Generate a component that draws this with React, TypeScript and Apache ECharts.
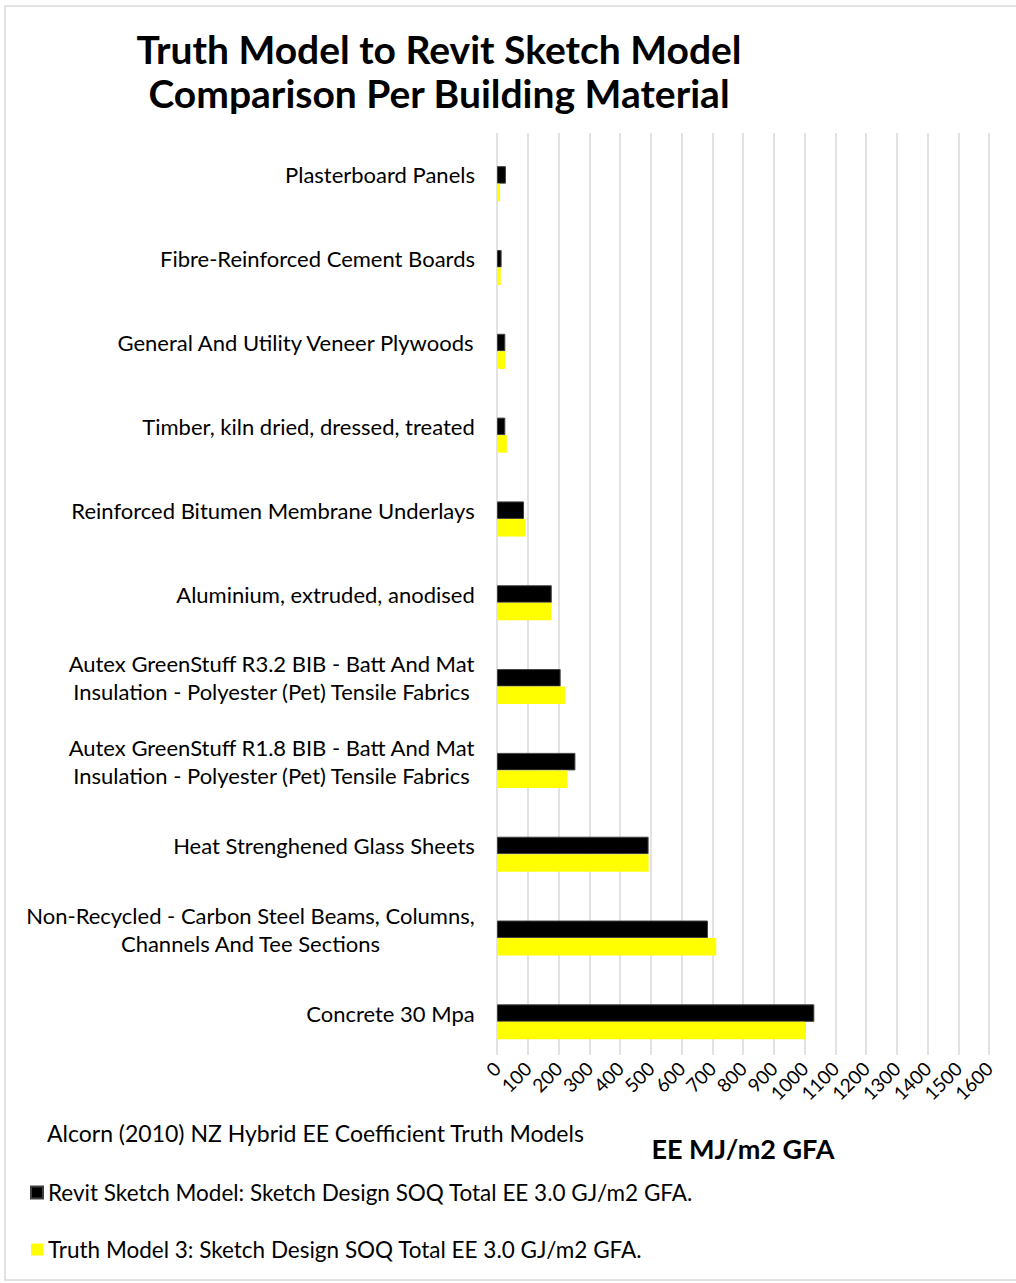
import React, { useEffect, useRef } from "react";
import * as echarts from "echarts";

const categories = [
  "Plasterboard Panels",
  "Fibre-Reinforced Cement Boards",
  "General And Utility Veneer Plywoods",
  "Timber, kiln dried, dressed, treated",
  "Reinforced Bitumen Membrane Underlays",
  "Aluminium, extruded, anodised",
  "Autex GreenStuff R3.2 BIB - Batt And Mat\nInsulation - Polyester (Pet) Tensile Fabrics",
  "Autex GreenStuff R1.8 BIB - Batt And Mat\nInsulation - Polyester (Pet) Tensile Fabrics",
  "Heat Strenghened Glass Sheets",
  "Non-Recycled - Carbon Steel Beams, Columns,\nChannels And Tee Sections",
  "Concrete 30 Mpa",
];

const revitValues = [29, 15, 27, 27, 88, 178, 207, 255, 493, 686, 1032];
const truthValues = [10, 12, 26, 32, 92, 177, 221, 228, 493, 713, 1002];

const revitName = "Revit Sketch Model: Sketch Design SOQ Total EE 3.0 GJ/m2 GFA.";
const truthName = "Truth Model 3: Sketch Design SOQ Total EE 3.0 GJ/m2 GFA.";
const titleText = "Truth Model to Revit Sketch Model\nComparison Per Building Material";
const axisName = "EE MJ/m2 GFA";
const noteText = "Alcorn (2010) NZ Hybrid EE Coefficient Truth Models";

const FONT = "Lato, 'Open Sans', sans-serif";
const LABEL_SIZE = 22;

export default function App() {
  const ref = useRef<HTMLDivElement>(null);
  useEffect(() => {
    if (!ref.current) return;
    const chart = echarts.init(ref.current, undefined, { renderer: "svg" });

    const ctx = document.createElement("canvas").getContext("2d")!;
    ctx.font = `${LABEL_SIZE}px Lato`;
    const rich: Record<string, any> = {};
    const labelMap: Record<string, string> = {};
    categories.forEach((c, i) => {
      const lines = c.split("\n");
      const w = Math.max(...lines.map((l) => ctx.measureText(l).width));
      const key = "l" + i;
      rich[key] = {
        width: Math.ceil(w),
        align: "center",
        fontSize: LABEL_SIZE,
        fontFamily: FONT,
        color: "#000",
        lineHeight: 28,
      };
      labelMap[c] = lines.map((l) => `{${key}|${l}}`).join("\n");
    });

    chart.setOption({
      animation: false,
      backgroundColor: "#fff",
      title: {
        text: titleText,
        left: 434,
        top: 22,
        textAlign: "center",
        textStyle: {
          fontSize: 39,
          fontWeight: "bold",
          fontFamily: FONT,
          color: "#000",
          lineHeight: 44,
        },
      },
      graphic: [
        {
          type: "rect",
          shape: { x: 5, y: 6, width: 1030, height: 1274 },
          style: { fill: "none", stroke: "#d9d9d9", lineWidth: 1.5 },
          silent: true,
        },
        {
          type: "text",
          left: 47,
          top: 1121,
          style: {
            text: noteText,
            fontSize: 23,
            fontFamily: FONT,
            fill: "#000",
          },
        },
      ],
      legend: {
        orient: "vertical",
        left: 30,
        top: 1181,
        padding: 0,
        itemGap: 34,
        itemWidth: 12,
        itemHeight: 12,
        icon: "rect",
        data: [revitName, truthName],
        textStyle: { fontSize: 22.5, fontFamily: FONT, color: "#000", padding: [0, 0, 0, 0] },
      },
      grid: { left: 497, right: 27, top: 133, bottom: 228, containLabel: false },
      xAxis: {
        type: "value",
        min: 0,
        max: 1600,
        interval: 100,
        name: axisName,
        nameLocation: "middle",
        nameGap: 80,
        nameTextStyle: {
          fontSize: 27,
          fontWeight: "bold",
          fontFamily: FONT,
          color: "#000",
        },
        axisLine: { show: false },
        axisTick: { show: false },
        axisLabel: {
          rotate: 45,
          fontSize: 19,
          fontFamily: FONT,
          color: "#000",
          margin: 10,
          formatter: (v: number) => String(v),
        },
        splitLine: { show: true, lineStyle: { color: "#d9d9d9", width: 1.5 } },
      },
      yAxis: {
        type: "category",
        inverse: true,
        data: categories,
        axisLine: { show: false },
        axisTick: { show: false },
        axisLabel: {
          margin: 22,
          fontSize: LABEL_SIZE,
          fontFamily: FONT,
          color: "#000",
          lineHeight: 28,
          formatter: (v: string) => labelMap[v] ?? v,
          rich,
        },
      },
      series: [
        {
          name: "spacer",
          type: "bar",
          data: categories.map(() => null),
          barWidth: 17.5,
          barGap: "0%",
          silent: true,
        },
        {
          name: revitName,
          type: "bar",
          data: revitValues,
          barWidth: 17.5,
          barGap: "0%",
          itemStyle: { color: "#000", borderColor: "#404040", borderWidth: 1 },
        },
        {
          name: truthName,
          type: "bar",
          data: truthValues,
          barWidth: 17.5,
          barGap: "0%",
          itemStyle: { color: "#ffff00" },
        },
      ],
    });
    return () => chart.dispose();
  }, []);
  return (
    <div
      ref={ref}
      style={{ position: "absolute", left: 0, top: 0, width: 1016, height: 1283 }}
    />
  );
}
